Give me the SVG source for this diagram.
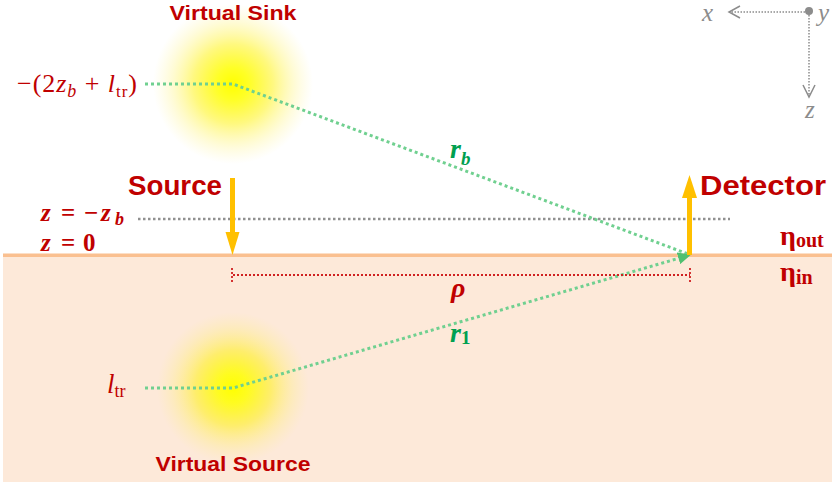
<svg xmlns="http://www.w3.org/2000/svg" width="832" height="485" viewBox="0 0 832 485">
<defs>
<style>
.lbl{font-family:"Liberation Sans",Arial,sans-serif;font-weight:bold;fill:#C00000}
.math{font-family:"Liberation Serif","DejaVu Serif",serif;fill:#C00000}
.it{font-style:italic}
.grn{font-family:"Liberation Serif","DejaVu Serif",serif;fill:#00A050;font-weight:bold;font-style:italic}
.ax{font-family:"Liberation Serif","DejaVu Serif",serif;fill:#8C8C8C;font-style:italic;font-size:25px}
.ray{fill:none;stroke:#70D090;stroke-width:3;stroke-dasharray:3 3}
.gray{fill:none;stroke:#909090;stroke-width:2.5;stroke-dasharray:2.5 2.5}
.axl{fill:none;stroke:#8C8C8C;stroke-width:1.5;stroke-dasharray:1.5 1.5}
.red{fill:none;stroke:#D02020;stroke-width:1.8;stroke-dasharray:2 2}
.arr{fill:#FFC000}
</style>
<radialGradient id="glow">
<stop offset="0" stop-color="#FFFF00" stop-opacity="1"/>
<stop offset="0.2" stop-color="#FFFF00" stop-opacity="0.85"/>
<stop offset="0.5" stop-color="#FFF200" stop-opacity="0.5"/>
<stop offset="0.8" stop-color="#FFF060" stop-opacity="0.22"/>
<stop offset="1" stop-color="#FFF080" stop-opacity="0"/>
</radialGradient>
<marker id="gh" markerWidth="14" markerHeight="12" refX="12" refY="6" orient="auto" markerUnits="userSpaceOnUse">
<path d="M0,0 L13,6 L0,12 Z" fill="#50C070"/>
</marker>
</defs>
<rect width="832" height="485" fill="#FFFFFF"/>
<g id="medium">
<rect x="3" y="255" width="829" height="227" fill="#FDE9D9"/>
<rect x="3" y="253.5" width="829" height="3.5" fill="#FAC090"/>
</g>
<g id="virtual-sink">
<circle cx="233" cy="84" r="80" fill="url(#glow)"/>
<text class="lbl" x="233" y="20" font-size="21" text-anchor="middle" textLength="127" lengthAdjust="spacingAndGlyphs">Virtual Sink</text>
</g>
<g id="virtual-source">
<circle cx="233" cy="388" r="76" fill="url(#glow)"/>
<text class="lbl" x="233" y="471" font-size="21" text-anchor="middle" textLength="155" lengthAdjust="spacingAndGlyphs">Virtual Source</text>
</g>
<g id="axes">
<line class="axl" x1="808" y1="12" x2="729" y2="12"/>
<path d="M740,6 L729,12 L740,18" fill="none" stroke="#8C8C8C" stroke-width="1.5"/>
<line class="axl" x1="809" y1="12" x2="809" y2="96"/>
<path d="M803,85 L809,97 L815,85" fill="none" stroke="#8C8C8C" stroke-width="1.5"/>
<circle cx="809" cy="11" r="4" fill="#8C8C8C"/>
<text class="ax" x="702" y="21">x</text>
<text class="ax" x="818" y="21">y</text>
<text class="ax" x="805" y="118">z</text>
</g>
<g id="connectors">
<line class="gray" x1="138" y1="219" x2="730" y2="219"/>
<polyline class="ray" points="145,84 233,84 688,254"/>
<polyline class="ray" points="145,388 233,388 690,255" marker-end="url(#gh)"/>
<line class="red" x1="233" y1="275" x2="690" y2="275"/>
<line class="red" x1="232" y1="268" x2="232" y2="282"/>
<line class="red" x1="690" y1="268" x2="690" y2="283"/>
</g>
<g id="source">
<rect class="arr" x="230" y="178" width="5" height="56"/>
<path class="arr" d="M225.5,232 L239.5,232 L232.5,255 Z"/>
<text class="lbl" x="128" y="195" font-size="27" textLength="94" lengthAdjust="spacingAndGlyphs">Source</text>
</g>
<g id="detector">
<rect class="arr" x="687" y="196" width="5" height="59"/>
<path class="arr" d="M682,198 L697,198 L689.5,175 Z"/>
<text class="lbl" x="700" y="195" font-size="27" textLength="126" lengthAdjust="spacingAndGlyphs">Detector</text>
</g>
<g id="labels">
<text class="math" x="17" y="92" font-size="26" textLength="120" lengthAdjust="spacing">−(2<tspan class="it">z</tspan><tspan class="it" font-size="18" dy="5">b</tspan><tspan dy="-5"> + </tspan><tspan class="it">l</tspan><tspan font-size="17" dy="5">tr</tspan><tspan dy="-5">)</tspan></text>
<text class="math" y="221" font-size="25" font-weight="bold"><tspan class="it" x="41">z</tspan><tspan x="61">=</tspan><tspan x="84">−</tspan><tspan class="it" x="101">z</tspan><tspan class="it" x="115" dy="4" font-size="18">b</tspan></text>
<text class="math" y="251" font-size="25" font-weight="bold"><tspan class="it" x="41">z</tspan><tspan x="61">=</tspan><tspan x="83">0</tspan></text>
<text class="math it" x="107" y="393" font-size="27">l<tspan font-style="normal" font-size="18" dy="4">tr</tspan></text>
<text class="math" x="780" y="245" font-size="28" font-weight="bold">η<tspan font-size="20" dy="2">out</tspan></text>
<text class="math" x="780" y="281" font-size="28" font-weight="bold">η<tspan font-size="20" dy="3">in</tspan></text>
<text class="math it" x="451" y="297" font-size="28" font-weight="bold">ρ</text>
<text class="grn" x="450" y="158" font-size="28">r<tspan font-size="19" dy="7">b</tspan></text>
<text class="grn" x="450" y="342" font-size="28">r<tspan font-size="19" dy="2" font-style="normal">1</tspan></text>
</g>
</svg>
